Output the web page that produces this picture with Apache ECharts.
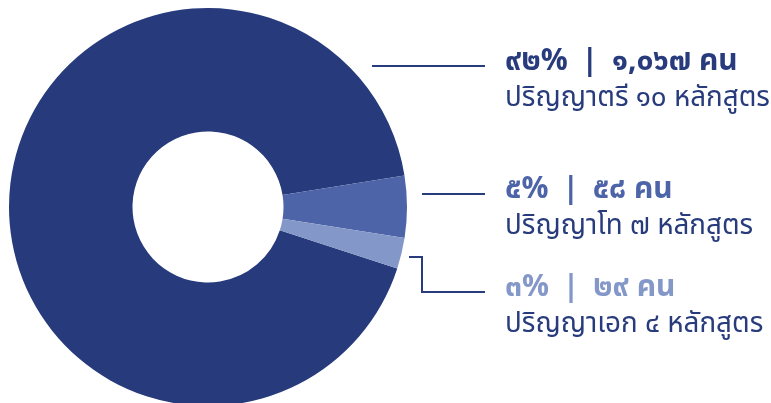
<!DOCTYPE html>
<html>
<head>
<meta charset="utf-8">
<style>
  html, body { margin: 0; padding: 0; background: #ffffff; }
  #chart { width: 771px; height: 403px; }
</style>
<script src="https://cdn.jsdelivr.net/npm/echarts@6/dist/echarts.min.js"></script>
</head>
<body>
<div id="chart"></div>
<script>
// Degree programmes and their student counts
var degrees = ['ปริญญาตรี', 'ปริญญาโท', 'ปริญญาเอก'];
var students = [1067, 58, 29];
var programmes = [10, 7, 4];
var sliceColors = ['#263a7c', '#4d64a8', '#8497c9'];

var NAVY = '#283c7d';
var FONT = '"Noto Sans Thai", "Noto Sans", sans-serif';

// Arabic digits to Thai digits
function thaiDigits(s) {
  var d = '๐๑๒๓๔๕๖๗๘๙';
  return String(s).replace(/[0-9]/g, function (c) { return d[+c]; });
}
function withComma(n) {
  return String(n).replace(/\B(?=(\d{3})+(?!\d))/g, ',');
}

var total = students.reduce(function (a, b) { return a + b; }, 0);
var SEP = ' \u2009|\u2009 ';

var pieData = degrees.map(function (name, i) {
  var pct = Math.round(students[i] / total * 100);
  return {
    name: name,
    value: students[i],
    itemStyle: { color: sliceColors[i] },
    label: {
      formatter: '{h' + i + '|' + thaiDigits(pct) + '%' + SEP + thaiDigits(withComma(students[i])) + ' คน}\n' +
                 '{b|' + name + ' ' + thaiDigits(programmes[i]) + ' หลักสูตร}'
    }
  };
});

// Leader lines and label anchors per slice
var labelAnchors = [
  { y: 66,  line: [[372, 66], [485, 66]] },
  { y: 194, line: [[422, 194], [485, 194]] },
  { y: 292, line: [[409, 257], [422, 257], [422, 292], [485, 292]] }
];

var chart = echarts.init(document.getElementById('chart'), null, { renderer: 'canvas' });
chart.setOption({
  animation: false,
  series: [{
    type: 'pie',
    center: [208, 207],
    radius: [75.5, 199],
    startAngle: -18,
    clockwise: true,
    avoidLabelOverlap: false,
    silent: true,
    emphasis: { disabled: true },
    data: pieData,
    label: {
      show: true,
      position: 'outside',
      align: 'left',
      fontFamily: FONT,
      rich: {
        h0: { fontSize: 30, fontWeight: 'bold', color: NAVY, lineHeight: 36, fontFamily: FONT },
        h1: { fontSize: 30, fontWeight: 'bold', color: sliceColors[1], lineHeight: 36, fontFamily: FONT },
        h2: { fontSize: 30, fontWeight: 'bold', color: sliceColors[2], lineHeight: 36, fontFamily: FONT },
        b:  { fontSize: 27.8, color: NAVY, lineHeight: 36, fontFamily: FONT }
      }
    },
    labelLine: {
      show: true,
      smooth: false,
      lineStyle: { color: NAVY, width: 2 }
    },
    labelLayout: function (params) {
      var a = labelAnchors[params.dataIndex];
      return {
        x: 505,
        y: a.y - 20,
        align: 'left',
        verticalAlign: 'top',
        labelLinePoints: a.line
      };
    }
  }]
});
</script>
</body>
</html>
